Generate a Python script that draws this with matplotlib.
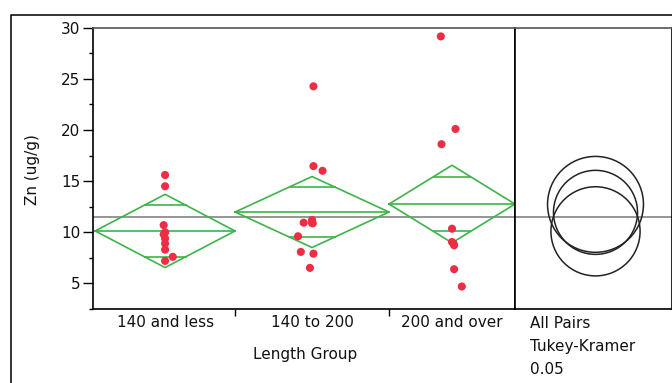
import numpy as np
import matplotlib
matplotlib.use("Agg")
import matplotlib.pyplot as plt
from matplotlib.patches import Circle
from matplotlib.lines import Line2D

# ---------------- data ----------------
groups = ["140 and less", "140 to 200", "200 and over"]
g1_values = [15.6, 14.5, 10.7, 10.0, 9.8, 9.4, 8.9, 8.3, 7.6, 7.2]
g1_jitter = [0.0, 0.0, -0.1, 0.0, -0.1, 0.0, 0.0, 0.0, 0.55, 0.0]
g2_values = [24.27, 16.47, 16.01, 11.2, 10.94, 10.88, 10.9, 9.61, 8.08, 7.91, 6.52]
g2_jitter = [0.1, 0.1, 0.75, 0.0, -0.6, 0.05, 0.0, -1.0, -0.8, 0.1, -0.15]
g3_values = [29.15, 20.1, 18.61, 10.35, 9.05, 8.9, 8.73, 6.39, 4.70]
g3_jitter = [-0.8, 0.25, -0.75, 0.0, 0.0, 0.1, 0.15, 0.15, 0.7]
group_means = [10.13, 11.98, 12.76]
ci_half = [3.58, 3.47, 3.79]
circle_radius = [4.35, 4.10, 4.68]
grand_mean = 11.52
y_ticks = [5, 10, 15, 20, 25, 30]

RED = "#EC2D43"
GREEN = "#3DB34A"
GRAY = "#8C8C8C"
TXT = "#111111"

plt.rcParams["font.family"] = ["DejaVu Sans"]

W, H = 672, 383
fig = plt.figure(figsize=(W / 100, H / 100), dpi=100)

def fx(px):
    return px / W

def fy(py):
    return 1 - py / H

left, right_main, right_panel = 93, 515, 671.5
top, bottom = 27.7, 309
ax = fig.add_axes([fx(left), fy(bottom), fx(right_main) - fx(left), fy(top) - fy(bottom)])
ax2 = fig.add_axes([fx(right_main), fy(bottom), fx(right_panel) - fx(right_main), fy(top) - fy(bottom)])

ylim = (2.55, 30)
values = [g1_values, g2_values, g3_values]
jitters = [g1_jitter, g2_jitter, g3_jitter]
counts = [len(v) for v in values]
edges = np.concatenate([[0], np.cumsum(counts)])
centers = (edges[:-1] + edges[1:]) / 2

ax.set_xlim(-0.15, edges[-1])
ax.set_ylim(*ylim)

# grand mean line
ax.axhline(grand_mean, color=GRAY, lw=1.3, zorder=1)

k = 1 / np.sqrt(2)
for i in range(3):
    x0, x1, xc = edges[i], edges[i + 1], centers[i]
    m, c = group_means[i], ci_half[i]
    # diamond
    ax.plot([x0, xc, x1, xc, x0], [m, m + c, m, m - c, m], color=GREEN, lw=1.2, zorder=2)
    # mean line
    ax.plot([x0, x1], [m, m], color=GREEN, lw=1.2, zorder=2)
    # overlap marks
    hw = (x1 - x0) / 2 * (1 - k)
    for s in (1, -1):
        ax.plot([xc - hw, xc + hw], [m + s * c * k] * 2, color=GREEN, lw=1.2, zorder=2)
    # points
    ax.scatter(xc + np.array(jitters[i]), values[i], s=34, color=RED, edgecolors="none", zorder=3)

ax.set_yticks(y_ticks)
ax.set_yticklabels([str(t) for t in y_ticks], fontsize=11, color=TXT)
ax.set_yticks(np.arange(2.5, 30, 2.5), minor=True)
ax.tick_params(axis="y", which="major", length=7, width=1, direction="out", pad=2)
ax.tick_params(axis="y", which="minor", length=3, width=1, direction="out")
ax.set_xticks(edges[1:-1])
ax.set_xticklabels([])
ax.tick_params(axis="x", length=5, width=1, direction="out")
for sp in ax.spines.values():
    sp.set_linewidth(1.2)
ax.spines["top"].set_color("#555555")

for i, g in enumerate(groups):
    ax.text(centers[i], -0.02, g, transform=ax.get_xaxis_transform(), ha="center", va="top",
            fontsize=11, color=TXT)
fig.text(fx(305), fy(355), "Length Group", ha="center", va="center", fontsize=11, color=TXT)
fig.text(fx(33), fy(170), "Zn (ug/g)", ha="center", va="center", rotation=90, fontsize=11, color=TXT)

# comparison circles panel
px_per_unit = (bottom - top) / (ylim[1] - ylim[0])
ax2.set_xlim(0, (right_panel - right_main) / px_per_unit)
ax2.set_ylim(*ylim)
ax2.set_xticks([])
ax2.set_yticks([])
for sp in ax2.spines.values():
    sp.set_linewidth(1.2)
ax2.spines["top"].set_color("#555555")
ax2.axhline(grand_mean, color=GRAY, lw=1.3, zorder=1)
cx = (595.5 - right_main) / px_per_unit
for m, r in zip(group_means, circle_radius):
    ax2.add_patch(Circle((cx, m), r, fill=False, ec="#222222", lw=1.1, zorder=2))

fig.text(fx(530), fy(323), "All Pairs", ha="left", va="center", fontsize=11, color=TXT)
fig.text(fx(530), fy(346), "Tukey-Kramer", ha="left", va="center", fontsize=11, color=TXT)
fig.text(fx(530), fy(370), "0.05", ha="left", va="center", fontsize=11, color=TXT)

# outer frame
fig.add_artist(Line2D([fx(11), fx(11), fx(680)], [fy(390), fy(15), fy(15)],
                      transform=fig.transFigure, color="#111111", lw=1.2))

fig.savefig("out.png", dpi=100)
